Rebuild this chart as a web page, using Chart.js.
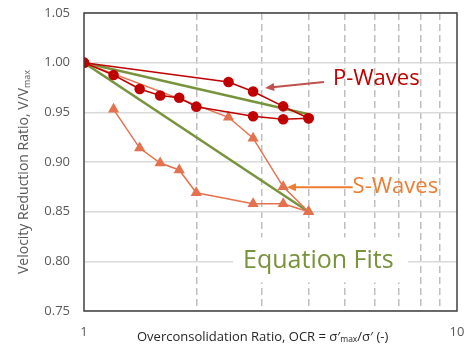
<!DOCTYPE html>
<html>
<head>
<meta charset="utf-8">
<script src="https://cdn.jsdelivr.net/npm/chart.js@4/dist/chart.umd.min.js"></script>
<style>
  html,body{margin:0;padding:0;background:#fff;}
  #wrap{width:470px;height:349px;position:relative;}
</style>
</head>
<body>
<div id="wrap"><canvas id="c"></canvas></div>
<script>
// OCR values (log x axis)
const ocrLong  = [1, 1.2, 1.41, 1.6, 1.8, 2.0, 2.84, 3.42, 4.0];
const ocrShort = [1, 2.44, 2.84, 3.42, 4.0];
const ocrS2    = [1.2, 1.41, 1.6, 1.8, 2.0, 2.84, 3.42, 4.0];
const ocrFit   = [1, 4.0];

// P-waves (red circles)
const pA = [1.000, 0.9805, 0.971, 0.956, 0.944];
const pB = [1.000, 0.9876, 0.9735, 0.967, 0.9647, 0.9557, 0.946, 0.943, 0.944];
// S-waves (salmon triangles)
const sA = [1.000, 0.945, 0.924, 0.875, 0.850];
const sB = [0.953, 0.914, 0.899, 0.892, 0.869, 0.858, 0.858, 0.850];
// equation fits (green)
const fitP = [1.000, 0.948];
const fitS = [1.000, 0.850];

const yTicks = [0.75, 0.80, 0.85, 0.90, 0.95, 1.00, 1.05];
const xGrid = [1, 2, 3, 4, 5, 6, 7, 8, 9, 10];
const xLabels = [1, 10];

const RED = "#c00000", SALMON = "#e4724f", GREEN = "#77933c", ORANGE = "#ed7d31";
const FONT = "'Open Sans', sans-serif";

function pts(xs, ys){ return xs.map((x,i)=>({x:x, y:ys[i]})); }

function lineSet(xs, ys, color, style, order, width){
  return {data:pts(xs,ys), borderColor:color, backgroundColor:color,
    borderWidth:width||1.5, pointStyle:style||false,
    pointRadius:style==="triangle"?6.5:(style?5.3:0), pointBorderWidth:0,
    pointBackgroundColor:color, tension:0, fill:false, order:order};
}

const datasets = [
  lineSet(ocrShort, pA, RED, "circle", 0),
  lineSet(ocrLong,  pB, RED, "circle", 0),
  lineSet(ocrShort, sA, SALMON, "triangle", 1),
  lineSet(ocrS2,    sB, SALMON, "triangle", 1),
  lineSet(ocrFit, fitP, GREEN, false, 2, 2.5),
  lineSet(ocrFit, fitS, GREEN, false, 2, 2.5),
];

function arrow(ctx, x1, y1, x2, y2, color, w){
  const a = Math.atan2(y2-y1, x2-x1), h = 9;
  ctx.save();
  ctx.strokeStyle = color; ctx.fillStyle = color; ctx.lineWidth = w;
  ctx.beginPath(); ctx.moveTo(x1,y1);
  ctx.lineTo(x2 - Math.cos(a)*h*0.8, y2 - Math.sin(a)*h*0.8); ctx.stroke();
  ctx.beginPath(); ctx.moveTo(x2,y2);
  ctx.lineTo(x2 - h*Math.cos(a) + 4*Math.sin(a), y2 - h*Math.sin(a) - 4*Math.cos(a));
  ctx.lineTo(x2 - h*Math.cos(a) - 4*Math.sin(a), y2 - h*Math.sin(a) + 4*Math.cos(a));
  ctx.closePath(); ctx.fill();
  ctx.restore();
}

// text with a "max" subscript: parts = [[text, isSub], ...]
function subText(ctx, parts, size, sub){
  let w = 0;
  parts.forEach(p=>{ ctx.font = (p[1]?sub:size)+"px "+FONT; w += ctx.measureText(p[0]).width; });
  return w;
}
function drawSubText(ctx, parts, x, y, size, sub){
  let cx = x;
  parts.forEach(p=>{
    ctx.font = (p[1]?sub:size)+"px "+FONT;
    ctx.fillText(p[0], cx, p[1] ? y + size*0.22 : y);
    cx += ctx.measureText(p[0]).width;
  });
}

const extras = {
  id:"extras",
  beforeDraw(chart){
    const ctx = chart.ctx;
    ctx.save(); ctx.fillStyle="#fff"; ctx.fillRect(0,0,chart.width,chart.height); ctx.restore();
  },
  afterDraw(chart){
    const ctx = chart.ctx, a = chart.chartArea;
    const xs = chart.scales.x, ys = chart.scales.y;
    ctx.save();
    // plot border
    ctx.strokeStyle = "#404040"; ctx.lineWidth = 1.5;
    ctx.strokeRect(a.left, a.top, a.right-a.left, a.bottom-a.top);

    // tick labels
    ctx.fillStyle = "#595959"; ctx.font = "13px "+FONT;
    ctx.textAlign = "right"; ctx.textBaseline = "middle";
    yTicks.forEach(v=> ctx.fillText(v.toFixed(2), a.left-14, ys.getPixelForValue(v)));
    ctx.textAlign = "center";
    xLabels.forEach(v=> ctx.fillText(String(v), xs.getPixelForValue(v), a.bottom+21));

    ctx.textBaseline = "middle"; ctx.textAlign = "left";
    // P-Waves label + arrow
    arrow(ctx, xs.getPixelForValue(4.65)-9, ys.getPixelForValue(0.9815)+1,
          xs.getPixelForValue(3.06), ys.getPixelForValue(0.9745), "#c0504d", 2);
    ctx.fillStyle = RED; ctx.font = "22px "+FONT;
    ctx.fillText("P-Waves", xs.getPixelForValue(4.65), ys.getPixelForValue(0.9815)-2);

    // S-Waves label + arrow
    arrow(ctx, xs.getPixelForValue(5.25), ys.getPixelForValue(0.8745),
          xs.getPixelForValue(3.5), ys.getPixelForValue(0.8745), ORANGE, 2);
    ctx.fillStyle = ORANGE; ctx.font = "22px "+FONT;
    ctx.fillText("S-Waves", xs.getPixelForValue(5.25), ys.getPixelForValue(0.8755));

    // Equation Fits label on a white box
    const bx = xs.getPixelForValue(2.67), by = ys.getPixelForValue(0.8);
    ctx.fillStyle = "#fff";
    ctx.fillRect(bx-10, by-24, 175, 45);
    ctx.fillStyle = GREEN; ctx.font = "25px "+FONT;
    ctx.fillText("Equation Fits", bx, by);

    // axis titles
    ctx.fillStyle = "#262626"; ctx.textBaseline = "middle";
    const xt = [["Overconsolidation Ratio, OCR = σ′",0],["max",1],["/σ′ (-)",0]];
    drawSubText(ctx, xt, 137, 337, 13, 8.5);

    ctx.fillStyle = "#595959";
    ctx.translate(24, 172); ctx.rotate(-Math.PI/2);
    const yt = [["Velocity Reduction Ratio, V/V",0],["max",1]];
    const yw = subText(ctx, yt, 14, 9);
    drawSubText(ctx, yt, -yw/2, 0, 14, 9);
    ctx.restore();
  }
};

new Chart(document.getElementById("c"), {
  type:"line",
  data:{datasets:datasets},
  plugins:[extras],
  options:{
    responsive:true, maintainAspectRatio:false, animation:false,
    layout:{padding:{top:13, right:13, left:0, bottom:0}},
    plugins:{legend:{display:false}, tooltip:{enabled:false}},
    scales:{
      x:{type:"logarithmic", min:1, max:10,
        afterBuildTicks(s){ s.ticks = xGrid.map(v=>({value:v})); },
        afterFit(s){ s.height = 38; },
        border:{display:false, dash:[7,4]},
        grid:{drawTicks:false, lineWidth:1.5,
          color:c=> (c.tick && (c.tick.value===1 || c.tick.value===10)) ? "rgba(0,0,0,0)" : "#bfbfbf"},
        ticks:{display:false}},
      y:{min:0.75, max:1.05,
        afterBuildTicks(s){ s.ticks = yTicks.map(v=>({value:v})); },
        afterFit(s){ s.width = 84; },
        border:{display:false},
        grid:{drawTicks:false, lineWidth:1.5, color:"#d9d9d9"},
        ticks:{display:false}}
    }
  }
});
</script>
</body>
</html>
